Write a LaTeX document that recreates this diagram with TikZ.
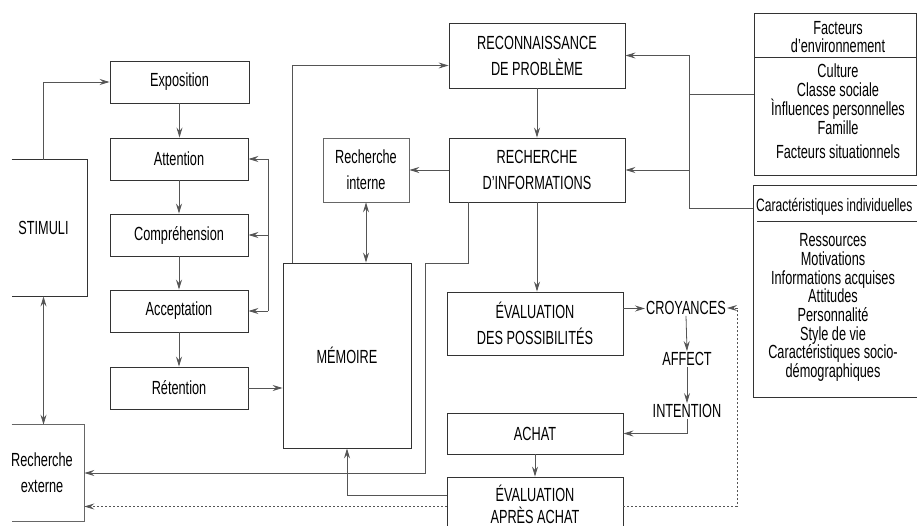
\documentclass[tikz,border=0pt]{standalone}
\usepackage{fontspec}
\setmainfont[FakeStretch=0.67]{Liberation Sans}
\usetikzlibrary{arrows.meta}
\definecolor{ink}{HTML}{333333}
\definecolor{wire}{HTML}{555555}
\begin{document}
\begin{tikzpicture}[x=1pt,y=-1pt,
  cbox/.style={draw=ink,line width=0.9pt,rectangle,inner sep=0pt,align=center,font=\fontsize{19}{26}\selectfont},
  lbox/.style={cbox,draw=ink!75,line width=0.7pt},
  txt/.style={inner sep=1pt,align=center,font=\fontsize{19}{20}\selectfont},
  wireline/.style={draw=wire,line width=0.8pt},
  arr/.style={wireline,-{Stealth[length=10pt,width=6pt,inset=3.5pt]}},
  darr/.style={wireline,{Stealth[length=10pt,width=6pt,inset=3.5pt]}-{Stealth[length=10pt,width=6pt,inset=3.5pt]}},
  dotline/.style={dash pattern=on 2pt off 2pt}
]
\useasboundingbox (0,0) rectangle (917,526);

% left column
\node[cbox,minimum width=139pt,minimum height=42pt] (expo) at (179.5,82) {Exposition};
\node[cbox,minimum width=138pt,minimum height=42pt] (att) at (179,159) {Attention};
\node[cbox,minimum width=138pt,minimum height=42pt] (comp) at (179,235) {Compréhension};
\node[cbox,minimum width=138pt,minimum height=42pt] (accept) at (179,311) {Acceptation};
\node[cbox,minimum width=138pt,minimum height=42pt] (ret) at (179,388) {Rétention};

\node[cbox,draw=none,minimum width=87pt,minimum height=136pt] (stim) at (43.5,228) {STIMULI};
\draw[ink,line width=0.9pt] ([xshift=12pt]stim.north west) -- (stim.north east) -- (stim.south east) -- ([xshift=12pt]stim.south west);

\node[lbox,draw=none,minimum width=84pt,minimum height=96pt] (rext) at (42,473) {Recherche\\externe};
\draw[ink!75,line width=0.7pt] ([xshift=12pt]rext.north west) -- (rext.north east) -- (rext.south east) -- ([xshift=12pt]rext.south west);

% middle
\node[cbox,minimum width=128pt,minimum height=185pt] (mem) at (347,355.5) {MÉMOIRE};
\node[lbox,minimum width=86pt,minimum height=64pt] (rint) at (366,170) {Recherche\\interne};
\node[cbox,minimum width=176pt,minimum height=65pt] (recon) at (537,55.5) {RECONNAISSANCE\\DE PROBLÈME};
\node[cbox,minimum width=176pt,minimum height=64pt] (rinfo) at (537,170) {RECHERCHE\\D’INFORMATIONS};
\node[cbox,minimum width=176pt,minimum height=63pt] (evp) at (535,323.5) {ÉVALUATION\\DES POSSIBILITÉS};
\node[cbox,minimum width=176pt,minimum height=41pt] (achat) at (535,433.5) {ACHAT};
\node[cbox,minimum width=176pt,minimum height=59pt] (evaa) at (535,506.5) {};
\node[txt,font=\fontsize{19}{22}\selectfont] (evaat) at (535,504) {ÉVALUATION\\APRÈS ACHAT};

\node[txt] (croy) at (686,308) {CROYANCES};
\node[txt] (affect) at (687,359) {AFFECT};
\node[txt] (intent) at (687,411) {INTENTION};

% right boxes
\node[cbox,minimum width=162pt,minimum height=162pt] (fenv) at (835,94) {};
\coordinate (fdivl) at (754,57);
\coordinate (fdivr) at (916,57);
\draw[ink,line width=0.9pt] (fdivl) -- (fdivr);
\node[txt,font=\fontsize{19}{18}\selectfont] (ftitle) at (838,37) {Facteurs\\d’environnement};
\node[txt,font=\fontsize{19}{19}\selectfont] (flist) at (838,99.5) {Culture\\Classe sociale\\Ìnfluences personnelles\\Famille};
\node[txt] (f5) at (838,152) {Facteurs situationnels};

\node[cbox,minimum width=165pt,minimum height=212pt] (caract) at (835.5,291) {};
\node[txt,anchor=west,font=\fontsize{18}{20}\selectfont] (ctitle) at (755,207) {Caractéristiques individuelles};
\coordinate (cul) at (757,221);
\coordinate (cur) at (917,221);
\draw[ink,line width=0.8pt] (cul) -- (cur);
\node[txt,font=\fontsize{19}{18.7}\selectfont] (clist) at (833,307.5) {Ressources\\Motivations\\Informations acquises\\Attitudes\\Personnalité\\Style de vie\\Caractéristiques socio-\\démographiques};

% connectors left
\draw[arr] (stim.north) |- (expo.west);
\draw[arr] (expo.south) -- (expo.south |- att.north);
\draw[arr] (att.south) -- (att.south |- comp.north);
\draw[arr] (comp.south) -- (comp.south |- accept.north);
\draw[arr] (accept.south) -- (accept.south |- ret.north);
\coordinate (fb) at (268,0);
\draw[wireline] (fb |- att.east) -- (fb |- accept.east);
\draw[arr] (fb |- att.east) -- (att.east);
\draw[arr] (fb |- comp.east) -- (comp.east);
\draw[arr] (fb |- accept.east) -- (accept.east);
\draw[arr] (ret.east) -- (ret.east -| mem.west);
\draw[darr] (stim.south) -- (stim.south |- rext.north);

% connectors middle
\coordinate (m1) at ([xshift=10pt]mem.north west);
\coordinate (r1) at ([yshift=-10pt]recon.west);
\draw[arr] (m1) |- (r1);
\draw[arr] (recon.south) -- (recon.south |- rinfo.north);
\draw[arr] (rinfo.west) -- (rint.east);
\draw[darr] (rint.south) -- (rint.south |- mem.north);
\draw[arr] (rinfo.south) -- (rinfo.south |- evp.north);
\coordinate (r2) at ([xshift=20pt]rinfo.south west);
\coordinate (c1) at (425,263);
\draw[arr] (r2) |- (c1) -- (c1 |- rext.east) -- (rext.east);
\coordinate (e2) at ([yshift=11.5pt]evaa.west);
\draw[arr] (e2) -| (mem.south);
\draw[arr,dotline] (evaa.west) -- (evaa.west -| rext.east);
\draw[arr] (achat.south) -- (achat.south |- evaa.north);

% connectors right
\coordinate (e1) at ([yshift=15pt]evp.east);
\draw[arr] (e1) -- (e1 -| croy.west);
\draw[arr] (croy.south) -- (affect.north);
\draw[arr] (affect.south) -- (intent.north);
\draw[arr] (intent.south) |- (achat.east);
\coordinate (c2) at (737,308);
\draw[arr,dotline] (evaa.east) -| (c2) -- (croy.east);

\coordinate (vx) at (689,0);
\coordinate (ctc) at (753,208);
\draw[wireline] (fenv.west) -- (vx |- fenv.west);
\draw[arr] (vx |- recon.east) -- (recon.east);
\draw[arr] (vx |- rinfo.east) -- (rinfo.east);
\draw[wireline] (vx |- recon.east) -- (vx |- ctc) -- (ctc);
\end{tikzpicture}
\end{document}
